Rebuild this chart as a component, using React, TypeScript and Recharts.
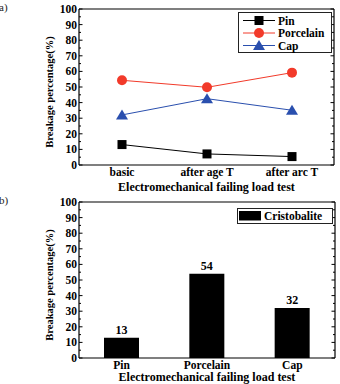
import React from 'react';
import {
  LineChart, Line, BarChart, Bar, XAxis, YAxis, Legend, LabelList, CartesianGrid,
} from 'recharts';

// Stages of the electromechanical failing load test
const stages = ['basic', 'after age T', 'after arc T'];
// Breakage percentage per component at each stage
const pinValues = [13.1, 7.1, 5.4];
const porcelainValues = [54.3, 49.8, 59.2];
const capValues = [32.1, 42.5, 35.1];

// Cristobalite breakage by component
const parts = ['Pin', 'Porcelain', 'Cap'];
const cristobaliteValues = [13, 54, 32];

// Y axis ticks (labelled every 10, minor ticks every 5)
const percentTicks = [0, 5, 10, 15, 20, 25, 30, 35, 40, 45, 50, 55, 60, 65, 70, 75, 80, 85, 90, 95, 100];

const lineData = stages.map((stage, i) => ({
  stage,
  pin: pinValues[i],
  porcelain: porcelainValues[i],
  cap: capValues[i],
}));

const barData = parts.map((part, i) => ({ part, value: cristobaliteValues[i] }));

const FONT = "'Liberation Serif', 'Times New Roman', serif";
const RED = '#f23a2a';
const BLUE = '#2a4fae';
const AXIS_TITLE = 'Electromechanical failing load test';
const Y_TITLE = 'Breakage percentage(%)';

const CHART_W = 340;
const Y_AXIS_W = 79;

// Left axis tick: label plus inward ticks on both the left and right frame edges
const makeLeftTick = (plotRight: number) => (props: any) => {
  const { x, y, payload } = props;
  const v = payload.value;
  const major = v % 10 === 0;
  const len = major ? 3.5 : 2;
  return (
    <g>
      <line x1={x} x2={x + len} y1={y} y2={y} stroke="#000" strokeWidth={1} />
      <line x1={plotRight} x2={plotRight - len} y1={y} y2={y} stroke="#000" strokeWidth={1} />
      {major && (
        <text x={x - 2} y={y} dy={4} textAnchor="end" fontFamily={FONT} fontWeight="bold" fontSize={11.5} fill="#000">
          {v}
        </text>
      )}
    </g>
  );
};

const BottomTick = (props: any) => {
  const { x, y, payload } = props;
  return (
    <text x={x} y={y + 11} textAnchor="middle" fontFamily={FONT} fontWeight="bold" fontSize={11.5} fill="#000">
      {payload.value}
    </text>
  );
};

const XTitle = (props: any) => {
  const vb = props.viewBox || {};
  const gap = props.gap ?? 26;
  return (
    <text x={vb.x + vb.width / 2} y={vb.y + gap} textAnchor="middle" fontFamily={FONT} fontWeight="bold" fontSize={12} fill="#000">
      {AXIS_TITLE}
    </text>
  );
};

const YTitle = (props: any) => {
  const vb = props.viewBox || {};
  const cx = 53;
  const cy = vb.y + vb.height / 2 + 5;
  return (
    <text x={cx} y={cy} transform={`rotate(-90 ${cx} ${cy})`} textAnchor="middle" fontFamily={FONT} fontWeight="bold" fontSize={10.5} fill="#000">
      {Y_TITLE}
    </text>
  );
};

const SquareDot = (props: any) => {
  const { cx, cy } = props;
  return <rect x={cx - 4.5} y={cy - 4.5} width={9} height={9} fill="#000" />;
};
const CircleDot = (props: any) => {
  const { cx, cy } = props;
  return <circle cx={cx} cy={cy} r={5} fill={RED} />;
};
const TriangleDot = (props: any) => {
  const { cx, cy } = props;
  return <path d={`M${cx},${cy - 5.5} L${cx + 6},${cy + 4.5} L${cx - 6},${cy + 4.5} Z`} fill={BLUE} />;
};

const LineLegend = () => {
  const rows = [
    { name: 'Pin', color: '#000', Marker: SquareDot },
    { name: 'Porcelain', color: RED, Marker: CircleDot },
    { name: 'Cap', color: BLUE, Marker: TriangleDot },
  ];
  return (
    <svg width={94} height={41} style={{ display: 'block' }}>
      <rect x={0.5} y={0.5} width={93} height={40} fill="#fff" stroke="#222" strokeWidth={1} />
      {rows.map((r, i) => {
        const cy = 8.5 + i * 12.5;
        const M = r.Marker;
        return (
          <g key={r.name}>
            <line x1={5} x2={37} y1={cy} y2={cy} stroke={r.color} strokeWidth={1} />
            <M cx={21} cy={cy} />
            <text x={40} y={cy + 4} fontFamily={FONT} fontWeight="bold" fontSize={11.5} fill="#000">
              {r.name}
            </text>
          </g>
        );
      })}
    </svg>
  );
};

const BarLegend = () => (
  <svg width={96} height={16} style={{ display: 'block' }}>
    <rect x={0.5} y={0.5} width={95} height={15} fill="#fff" stroke="#222" strokeWidth={1} />
    <rect x={2} y={3} width={22} height={9.5} fill="#000" />
    <text x={27} y={12} fontFamily={FONT} fontWeight="bold" fontSize={11.5} fill="#000">
      Cristobalite
    </text>
  </svg>
);

const PanelTag = ({ text, top }: { text: string; top: number }) => (
  <div style={{ position: 'absolute', left: -1, top, fontFamily: FONT, fontSize: 11, color: '#222' }}>{text}</div>
);

const axisLine = { stroke: '#000', strokeWidth: 1.2 };

// Grid used only to close the frame on the top and right edges
const topEdge = ({ offset }: any) => [offset.top];
const rightEdge = ({ offset }: any) => [offset.left + offset.width];

const lineMargin = { top: 9, right: 6, bottom: 8, left: 0 };
const barMargin = { top: 10, right: 5, bottom: 0, left: 0 };
const LineLeftTick = makeLeftTick(CHART_W - lineMargin.right);
const BarLeftTick = makeLeftTick(CHART_W - barMargin.right);

export default function App() {
  return (
    <div style={{ position: 'absolute', left: 0, top: 0, width: 340, height: 384, background: '#fff', overflow: 'hidden' }}>
      <PanelTag text="a)" top={1} />
      <PanelTag text="b)" top={194} />
      <div style={{ position: 'absolute', left: 0, top: 192 }}>
        <BarChart width={CHART_W} height={192} data={barData} margin={barMargin}>
          <CartesianGrid xAxisId="b" yAxisId="l" stroke="#000" strokeWidth={1.2} strokeDasharray=""
            horizontalCoordinatesGenerator={topEdge} verticalCoordinatesGenerator={rightEdge} />
          <XAxis xAxisId="b" dataKey="part" height={26} tickSize={0} tickMargin={0} tickLine={false}
            axisLine={axisLine} tick={<BottomTick />} interval={0} label={<XTitle gap={23} />} />
          <YAxis yAxisId="l" width={Y_AXIS_W} domain={[0, 100]} ticks={percentTicks} interval={0} tickSize={0} tickMargin={0}
            tickLine={false} axisLine={axisLine} tick={<BarLeftTick />} label={<YTitle />} />
          <Bar xAxisId="b" yAxisId="l" dataKey="value" fill="#000" barSize={35} isAnimationActive={false}>
            <LabelList dataKey="value" position="top" offset={4} fontFamily={FONT} fontWeight="bold" fontSize={12} fill="#000" />
          </Bar>
          <Legend layout="horizontal" verticalAlign="middle" align="center" content={<BarLegend />}
            wrapperStyle={{ position: 'absolute', left: 237, top: 16, width: 96, height: 16 }} />
        </BarChart>
      </div>
      <div style={{ position: 'absolute', left: 0, top: 0 }}>
        <LineChart width={CHART_W} height={200} data={lineData} margin={lineMargin}>
          <CartesianGrid xAxisId="b" yAxisId="l" stroke="#000" strokeWidth={1.2} strokeDasharray=""
            horizontalCoordinatesGenerator={topEdge} verticalCoordinatesGenerator={rightEdge} />
          <XAxis xAxisId="b" dataKey="stage" height={27} tickSize={0} tickMargin={0} tickLine={false}
            padding={{ left: 43, right: 42 }} axisLine={axisLine} tick={<BottomTick />} interval={0} label={<XTitle />} />
          <YAxis yAxisId="l" width={Y_AXIS_W} domain={[0, 100]} ticks={percentTicks} interval={0} tickSize={0} tickMargin={0}
            tickLine={false} axisLine={axisLine} tick={<LineLeftTick />} label={<YTitle />} />
          <Line xAxisId="b" yAxisId="l" dataKey="pin" stroke="#000" strokeWidth={1} dot={<SquareDot />} isAnimationActive={false} />
          <Line xAxisId="b" yAxisId="l" dataKey="porcelain" stroke={RED} strokeWidth={1} dot={<CircleDot />} isAnimationActive={false} />
          <Line xAxisId="b" yAxisId="l" dataKey="cap" stroke={BLUE} strokeWidth={1} dot={<TriangleDot />} isAnimationActive={false} />
          <Legend layout="horizontal" verticalAlign="middle" align="center" content={<LineLegend />}
            wrapperStyle={{ position: 'absolute', left: 238, top: 12, width: 94, height: 41 }} />
        </LineChart>
      </div>
    </div>
  );
}
